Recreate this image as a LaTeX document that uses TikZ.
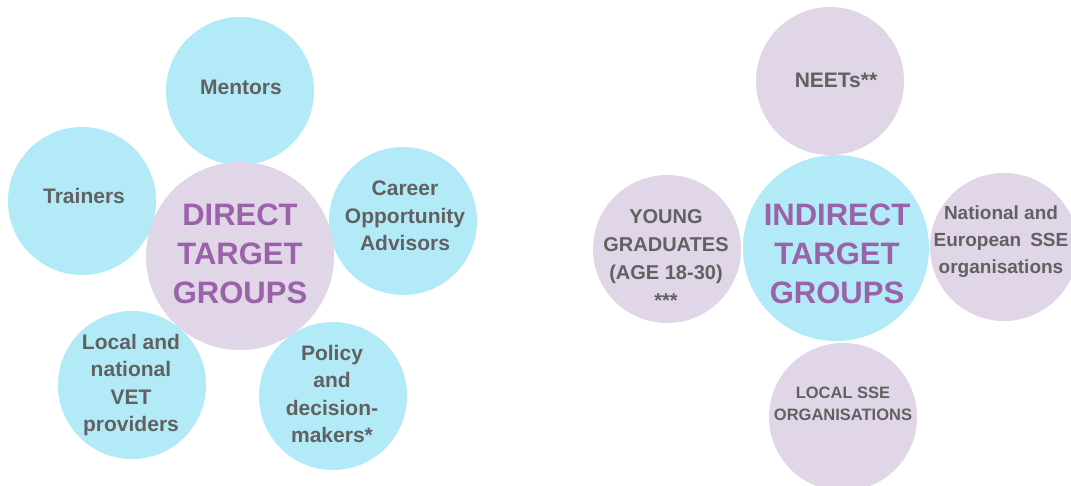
\documentclass[tikz,border=0pt]{standalone}
\usepackage{fontspec}
\setmainfont{Liberation Sans}
\definecolor{cyanfill}{HTML}{B2EAF7}
\definecolor{lavfill}{HTML}{E1D5E8}
\definecolor{purptext}{HTML}{9A62A9}
\definecolor{graytext}{HTML}{616161}
\tikzset{
  blob/.style={circle, inner sep=0pt, minimum size=148pt, draw=none},
  cyanblob/.style={blob, fill=cyanfill},
  lavblob/.style={blob, fill=lavfill},
  bigblob/.style={circle, inner sep=0pt, minimum size=188pt, draw=none},
  smalltxt/.style={text=graytext, align=center, inner sep=0pt, font=\bfseries\fontsize{21}{27.5}\selectfont},
  righttxt/.style={text=graytext, align=center, inner sep=0pt, font=\bfseries\fontsize{20}{28}\selectfont},
  bigtxt/.style={text=purptext, align=center, inner sep=0pt, font=\bfseries\fontsize{31}{39}\selectfont}
}
\begin{document}
\begin{tikzpicture}[x=1pt, y=-1pt]
\useasboundingbox (0,0) rectangle (1071,486);
\clip (0,0) rectangle (1071,486);
\fill[white] (0,0) rectangle (1071,486);
% ---------- Direct target groups ----------
\node[cyanblob] (mentors) at (240,91) {};
\node[cyanblob] (trainers) at (82,201) {};
\node[cyanblob] (career) at (403,221) {};
\node[cyanblob] (vet) at (132,385) {};
\node[cyanblob] (policy) at (333,396) {};
\node[bigblob, fill=lavfill] (direct) at (240,256) {};
\node[smalltxt] (tmentors) at (241,87) {Mentors};
\node[smalltxt] (ttrainers) at (84,196) {Trainers};
\node[smalltxt] (tcareer) at (405,216) {Career\\Opportunity\\Advisors};
\node[smalltxt] (tvet) at (131,385) {Local and\\national\\VET\\providers};
\node[smalltxt] (tpolicy) at (332,394) {Policy\\and\\decision-\\makers*};
\node[bigtxt] (tdirect) at (240,254) {DIRECT\\TARGET\\GROUPS};
% ---------- Indirect target groups ----------
\node[lavblob] (neets) at (830,81) {};
\node[lavblob] (young) at (667,249) {};
\node[lavblob] (national) at (1004,247) {};
\node[lavblob] (localsse) at (843,417) {};
\node[circle, inner sep=0pt, minimum size=186pt, fill=cyanfill] (indirect) at (836,248) {};
\node[righttxt, font=\bfseries\fontsize{21}{27}\selectfont] (tneets) at (836,80) {NEETs**};
\node[righttxt] (tyoung) at (666,259) {YOUNG\\GRADUATES\\(AGE 18-30)\\***};
\node[righttxt, font=\bfseries\fontsize{19}{27}\selectfont] (tnational) at (1001,242) {National and\\European\hspace{9pt}SSE\\organisations};
\node[righttxt, font=\bfseries\fontsize{16.5}{22}\selectfont] (tlocal) at (843,404) {LOCAL SSE\\ORGANISATIONS};
\node[bigtxt] (tindirect) at (837,254) {INDIRECT\\TARGET\\GROUPS};
\end{tikzpicture}
\end{document}
